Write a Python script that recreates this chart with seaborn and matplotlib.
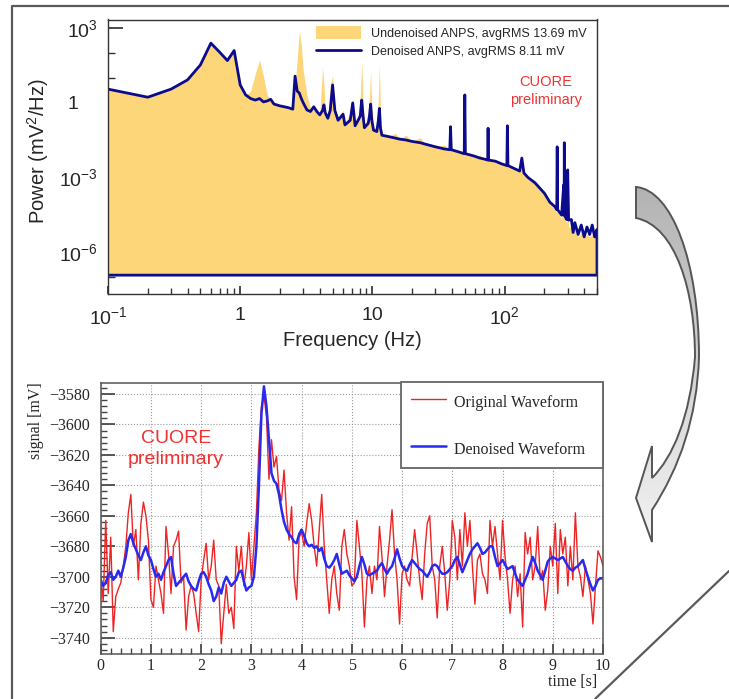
import numpy as np
import matplotlib
matplotlib.use('Agg')
import matplotlib.pyplot as plt
from matplotlib.patches import Patch, PathPatch
from matplotlib.lines import Line2D
from matplotlib.path import Path
from matplotlib.colors import LinearSegmentedColormap
from matplotlib.transforms import ScaledTranslation
from matplotlib.ticker import (FixedLocator, FixedFormatter, MultipleLocator,
                               LogLocator, NullFormatter)
import seaborn as sns

''' DATA '''
# noise power spectrum (Hz, mV^2/Hz)
freq = [0.1, 0.2, 0.3, 0.4, 0.5, 0.6, 0.7, 0.8, 0.9, 1.0, 1.1, 1.2, 1.3, 1.4, 1.5,
        1.6, 1.7, 1.8, 2.0, 2.3, 2.5, 2.6, 2.7, 2.8, 2.9, 3.0, 3.2, 3.4, 3.6, 3.8,
        4.0, 4.2, 4.3, 4.4, 4.6, 4.8, 5.0, 5.2, 5.5, 6.0, 6.2, 6.8, 7.1, 7.4, 7.8,
        8.1, 8.3, 8.5, 8.7, 9.3, 9.5, 9.7, 9.9, 10.2, 10.8, 11.1, 11.3, 11.5, 11.8,
        13, 15, 16, 18, 20, 23, 25, 30, 35, 38.5, 39, 39.5, 44, 49.5, 50, 50.5,
        55, 60, 65, 70, 74.5, 75, 75.5, 85, 95, 104, 105, 106, 130, 135, 140, 150,
        170, 200, 220, 240, 248, 250, 252, 270, 280, 282, 283, 284, 295, 300, 305,
        320, 330, 340, 360, 380, 400, 420, 440, 460, 480, 500]
denoised = [3.6, 1.7, 3.6, 8.5, 34, 256, 110, 51, 129, 5.3, 2.1, 1.5, 1.3, 1.5, 1.1,
            1.2, 1.4, 0.9, 0.76, 0.65, 0.56, 12, 3.0, 2.5, 1.5, 1.0, 0.52, 0.45, 0.7, 0.45,
            0.33, 0.5, 0.83, 0.4, 0.24, 0.5, 5.3, 0.5, 0.2, 0.35, 0.13, 0.2, 1.0, 0.12, 0.2,
            0.3, 1.3, 0.3, 0.1, 0.15, 0.3, 0.9, 0.2, 0.08, 0.07, 0.2, 0.6, 0.1, 0.05,
            0.045, 0.038, 0.035, 0.032, 0.028, 0.025, 0.022, 0.017, 0.014, 0.013, 0.11, 0.013, 0.011, 0.009, 2.1, 0.009,
            0.008, 0.007, 0.006, 0.0055, 0.005, 0.095, 0.005, 0.0045, 0.0035, 0.003, 0.12, 0.003, 0.0018, 0.006, 0.0015, 0.001,
            0.0006, 2.3e-4, 1.0e-4, 6.6e-5, 5e-5, 0.017, 5e-5, 3e-5, 5e-4, 3e-5, 0.025, 3e-5, 2e-5, 0.002, 1.9e-5,
            2e-5, 6e-6, 1.5e-5, 5e-6, 1.2e-5, 4e-6, 1e-5, 5e-6, 1.2e-5, 4e-6, 8e-6]
undenoised = [3.6, 1.7, 3.6, 8.5, 34, 256, 110, 51, 129, 5.3, 2.1, 3.0, 15, 54, 12,
              2.0, 1.4, 0.9, 0.76, 0.65, 0.6, 5.0, 60, 830, 200, 20, 2.0, 0.6, 0.8, 0.5,
              0.35, 29, 5.0, 0.5, 0.3, 5.0, 13, 0.6, 0.25, 0.5, 0.15, 0.4, 1.5, 0.15, 0.3,
              2.0, 46, 1.0, 0.15, 0.2, 2.0, 18, 0.5, 0.1, 0.1, 2.0, 34, 0.5, 0.06,
              0.045, 0.06, 0.035, 0.05, 0.028, 0.04, 0.022, 0.017, 0.02, 0.013, 0.12, 0.013, 0.011, 0.009, 3.3, 0.009,
              0.008, 0.007, 0.008, 0.0055, 0.005, 0.1, 0.005, 0.0045, 0.0035, 0.003, 0.12, 0.003, 0.0018, 0.006, 0.0015, 0.001,
              0.0006, 2e-4, 9e-5, 5e-5, 4e-5, 0.02, 4e-5, 2e-5, 5e-4, 2e-5, 0.044, 2e-5, 1.5e-5, 0.004, 1e-5,
              1e-5, 5e-6, 8e-6, 4e-6, 6e-6, 4e-6, 5e-6, 4e-6, 5e-6, 4e-6, 5e-6]
baseline = 1.15e-7

# waveforms, sampled every 0.05 s
sig_original = [
    -3700, -3716, -3663, -3711, -3674, -3736, -3713, -3708, -3704, -3693,
    -3680, -3658, -3646, -3680, -3669, -3702, -3665, -3651, -3660, -3676,
    -3715, -3720, -3693, -3702, -3711, -3724, -3667, -3685, -3711, -3680,
    -3676, -3670, -3704, -3700, -3735, -3713, -3706, -3711, -3724, -3736,
    -3702, -3689, -3678, -3702, -3693, -3676, -3702, -3706, -3744, -3724,
    -3705, -3724, -3720, -3734, -3680, -3696, -3680, -3706, -3693, -3671,
    -3702, -3680, -3658, -3615, -3588, -3581, -3595, -3636, -3610, -3628,
    -3621, -3643, -3650, -3630, -3658, -3676, -3654, -3700, -3715, -3674,
    -3671, -3680, -3665, -3652, -3663, -3680, -3693, -3669, -3646, -3680,
    -3702, -3724, -3702, -3693, -3711, -3722, -3680, -3669, -3685, -3693,
    -3706, -3704, -3663, -3680, -3698, -3733, -3702, -3693, -3711, -3693,
    -3702, -3667, -3687, -3713, -3693, -3676, -3656, -3685, -3702, -3731,
    -3698, -3693, -3702, -3706, -3687, -3669, -3685, -3702, -3715, -3685,
    -3665, -3660, -3693, -3702, -3727, -3693, -3680, -3698, -3722, -3702,
    -3663, -3674, -3702, -3669, -3693, -3658, -3680, -3663, -3693, -3718,
    -3689, -3685, -3698, -3702, -3711, -3663, -3680, -3667, -3685, -3702,
    -3663, -3687, -3702, -3724, -3702, -3693, -3713, -3698, -3733, -3671,
    -3685, -3674, -3702, -3693, -3667, -3702, -3696, -3722, -3709, -3680,
    -3693, -3665, -3711, -3669, -3685, -3674, -3706, -3680, -3702, -3658,
    -3693, -3700, -3713, -3693, -3702, -3711, -3731, -3706, -3683, -3687,
    -3693]
sig_denoised = [
    -3702, -3706, -3704, -3699, -3697, -3702, -3700, -3696, -3700, -3694,
    -3687, -3676, -3672, -3678, -3682, -3686, -3689, -3684, -3680, -3686,
    -3689, -3695, -3700, -3698, -3702, -3697, -3693, -3689, -3687, -3698,
    -3706, -3704, -3702, -3700, -3698, -3703, -3706, -3708, -3709, -3703,
    -3698, -3697, -3700, -3705, -3709, -3716, -3713, -3707, -3711, -3704,
    -3700, -3703, -3706, -3704, -3702, -3697, -3696, -3703, -3709, -3707,
    -3706, -3700, -3680, -3640, -3593, -3575, -3588, -3610, -3632, -3637,
    -3639, -3646, -3656, -3664, -3669, -3672, -3674, -3677, -3678, -3672,
    -3669, -3673, -3678, -3680, -3679, -3681, -3680, -3683, -3681, -3688,
    -3693, -3694, -3692, -3689, -3685, -3692, -3698, -3697, -3696, -3699,
    -3701, -3703, -3700, -3693, -3687, -3692, -3698, -3699, -3698, -3697,
    -3696, -3693, -3691, -3695, -3698, -3695, -3693, -3688, -3682, -3688,
    -3693, -3695, -3696, -3692, -3689, -3691, -3693, -3695, -3696, -3698,
    -3700, -3697, -3693, -3692, -3693, -3696, -3698, -3698, -3697, -3695,
    -3693, -3689, -3687, -3692, -3697, -3693, -3689, -3685, -3682, -3680,
    -3678, -3681, -3685, -3684, -3682, -3680, -3680, -3687, -3693, -3691,
    -3689, -3692, -3695, -3694, -3693, -3698, -3702, -3704, -3706, -3702,
    -3698, -3692, -3687, -3691, -3696, -3699, -3702, -3696, -3690, -3688,
    -3687, -3688, -3689, -3688, -3687, -3690, -3693, -3695, -3696, -3694,
    -3693, -3691, -3689, -3695, -3700, -3705, -3709, -3706, -3702, -3701,
    -3701]
t_sample = np.round(np.arange(len(sig_original)) * 0.05, 2)

''' STYLE '''
sns.set_theme(style='white')
plt.rcParams['font.family'] = ['Liberation Sans', 'DejaVu Sans']
plt.rcParams['mathtext.fontset'] = 'custom'
plt.rcParams['mathtext.rm'] = 'Liberation Sans'
plt.rcParams['mathtext.it'] = 'Liberation Sans:italic'

W, H = 729, 699
fig = plt.figure(figsize=(W / 100, H / 100), dpi=100)


def px_axes(l, t, r, b):
    return fig.add_axes([l / W, 1 - b / H, (r - l) / W, (b - t) / H])


def px_text(x, y, s, **kw):
    fig.text(x / W, 1 - y / H, s, **kw)


''' DECORATION: frame, curved arrow, diagonal '''
deco = px_axes(0, 0, W, H)
deco.set_xlim(0, W)
deco.set_ylim(H, 0)
deco.axis('off')
deco.patch.set_alpha(0)
deco.plot([12, 12, W], [H, 6, 6], color='#5a5a5a', lw=1.6)
deco.plot([W, 595], [571, H], color='#5a5a5a', lw=1.6)

arrow_path = Path(
    [(636, 187), (672, 190), (699, 262), (699, 357),
     (697, 417), (680, 467), (652, 510),
     (652, 542), (636, 498), (652, 446), (652, 478),
     (673, 457), (690, 417), (695, 357),
     (695, 292), (676, 226), (636, 218), (636, 187)],
    [Path.MOVETO, Path.CURVE4, Path.CURVE4, Path.CURVE4,
     Path.CURVE4, Path.CURVE4, Path.CURVE4,
     Path.LINETO, Path.LINETO, Path.LINETO, Path.LINETO,
     Path.CURVE4, Path.CURVE4, Path.CURVE4,
     Path.CURVE4, Path.CURVE4, Path.CURVE4, Path.CLOSEPOLY])
arrow = PathPatch(arrow_path, facecolor='none', edgecolor='#555555', lw=1.4, zorder=3)
deco.add_patch(arrow)
grad_cmap = LinearSegmentedColormap.from_list('g', ['#b2b2b2', '#f3f3f3'])
img = deco.imshow(np.linspace(0, 1, 200).reshape(-1, 1), cmap=grad_cmap, aspect='auto',
                  extent=(630, 705, 545, 180), zorder=2)
img.set_clip_path(arrow)
deco.set_xlim(0, W)
deco.set_ylim(H, 0)

''' TOP: noise power spectrum '''
yellow = '#fdd67a'
navy = '#0b0b8c'
ax1 = px_axes(108, 19.5, 597, 294)
ax1.fill_between(freq, undenoised, baseline, color=yellow, lw=0)
outline_f = np.r_[freq, freq[-1], freq[0]]
outline_p = np.r_[denoised, baseline, baseline]
sns.lineplot(x=outline_f, y=outline_p, ax=ax1, sort=False, estimator=None,
             color=navy, lw=2)
ax1.set_xscale('log')
ax1.set_yscale('log')
ax1.set_xlim(0.1, 500)
ax1.set_ylim(2.0e-8, 2.3e3)

ax1.xaxis.set_major_locator(FixedLocator([0.1, 1, 10, 100]))
ax1.xaxis.set_major_formatter(FixedFormatter(['$10^{-1}$', '1', '10', '$10^{2}$']))
ax1.xaxis.set_minor_locator(LogLocator(base=10, subs=np.arange(2, 10), numticks=20))
ax1.xaxis.set_minor_formatter(NullFormatter())
ax1.yaxis.set_major_locator(FixedLocator([1e-6, 1e-3, 1, 1e3]))
ax1.yaxis.set_major_formatter(FixedFormatter(['$10^{-6}$', '$10^{-3}$', '1', '$10^{3}$']))
ax1.yaxis.set_minor_locator(FixedLocator([10.0 ** k for k in range(-8, 4)]))
ax1.yaxis.set_minor_formatter(NullFormatter())
ax1.tick_params(which='both', direction='in', labelsize=14, color='#333333',
                bottom=True, left=True)
ax1.tick_params(axis='x', which='major', length=6, pad=9)
ax1.tick_params(axis='x', which='minor', length=4)
ax1.tick_params(axis='y', which='major', length=11, pad=7)
ax1.tick_params(axis='y', which='minor', length=5)
for sp in ax1.spines.values():
    sp.set_color('#333333')
    sp.set_linewidth(1.0)

ax1.set_xlabel('Frequency (Hz)', fontsize=14.5, labelpad=2)
ax1.set_ylabel('Power (mV$^2$/Hz)', fontsize=14.5)
ax1.yaxis.set_label_coords(-0.116, 0.52)

handles = [Patch(facecolor=yellow, edgecolor='none'), Line2D([], [], color=navy, lw=2)]
ax1.legend(handles, ['Undenoised ANPS, avgRMS 13.69 mV', 'Denoised ANPS, avgRMS 8.11 mV'],
           loc='upper left', bbox_to_anchor=((316 - 108) / 489, (294 - 26) / 274.5),
           frameon=False, fontsize=9, handlelength=3.6, handleheight=1.2,
           handletextpad=0.8, labelspacing=0.4, borderpad=0, borderaxespad=0)
px_text(546, 91, 'CUORE\npreliminary', ha='center', va='center', color='#ee3333',
        fontsize=10.5, linespacing=1.3)

''' BOTTOM: waveforms '''
serif = 'Liberation Serif'
ax2 = px_axes(100.7, 382.7, 603, 654)
sns.lineplot(x=t_sample, y=sig_original, ax=ax2, color='#ee2424', lw=1.0,
             label='Original Waveform')
sns.lineplot(x=t_sample, y=sig_denoised, ax=ax2, color='#2a2aee', lw=1.8,
             label='Denoised Waveform')
ax2.set_xlim(0, 10)
ax2.set_ylim(-3750.7, -3572.6)
ax2.xaxis.set_major_locator(MultipleLocator(1))
ax2.xaxis.set_minor_locator(MultipleLocator(0.2))
ax2.yaxis.set_major_locator(MultipleLocator(20))
ax2.yaxis.set_minor_locator(MultipleLocator(4))
ax2.grid(which='major', ls=':', color='#9a9a9a', lw=0.8)
ax2.tick_params(which='both', direction='in', labelsize=11.5, color='#444444',
                bottom=True, left=True)
ax2.tick_params(axis='x', which='major', length=7, pad=3)
ax2.tick_params(axis='x', which='minor', length=4)
ax2.tick_params(axis='y', which='major', length=10, pad=7.5)
ax2.tick_params(axis='y', which='minor', length=4.5)
for sp in ax2.spines.values():
    sp.set_color('#555555')
    sp.set_linewidth(1.1)
ax2.set_xlabel('')
ax2.set_ylabel('signal [mV]', loc='top', fontfamily=serif, fontsize=11.5)
ax2.yaxis.set_label_coords(-0.113, 1.0)
plt.setp(ax2.get_xticklabels() + ax2.get_yticklabels(), fontfamily=serif)

# legend box spans the top-right corner of the waveform panel
leg = ax2.legend(loc='upper left', bbox_to_anchor=(0.598, 0.0, 0.402, 1.003),
                 mode='expand', prop={'family': serif, 'size': 11.5}, frameon=True,
                 fancybox=False, edgecolor='#666666', framealpha=1, handlelength=2.2,
                 handleheight=1.56, handletextpad=0.5, labelspacing=1.65,
                 borderpad=0.62, borderaxespad=0)
leg.get_frame().set_linewidth(1.3)
px_text(597, 682, 'time [s]', ha='right', va='center', fontfamily=serif, fontsize=11.5)
px_text(176, 449, 'CUORE\npreliminary', ha='center', va='center', color='#ee3333',
        fontsize=14, linespacing=1.35)

# ROOT puts the bare "1" label further left than the powers of ten
one_label = ax1.yaxis.get_major_ticks()[2].label1
one_label.set_transform(one_label.get_transform()
                        + ScaledTranslation(-0.2, 0, fig.dpi_scale_trans))

fig.savefig('out.png', dpi=100)
